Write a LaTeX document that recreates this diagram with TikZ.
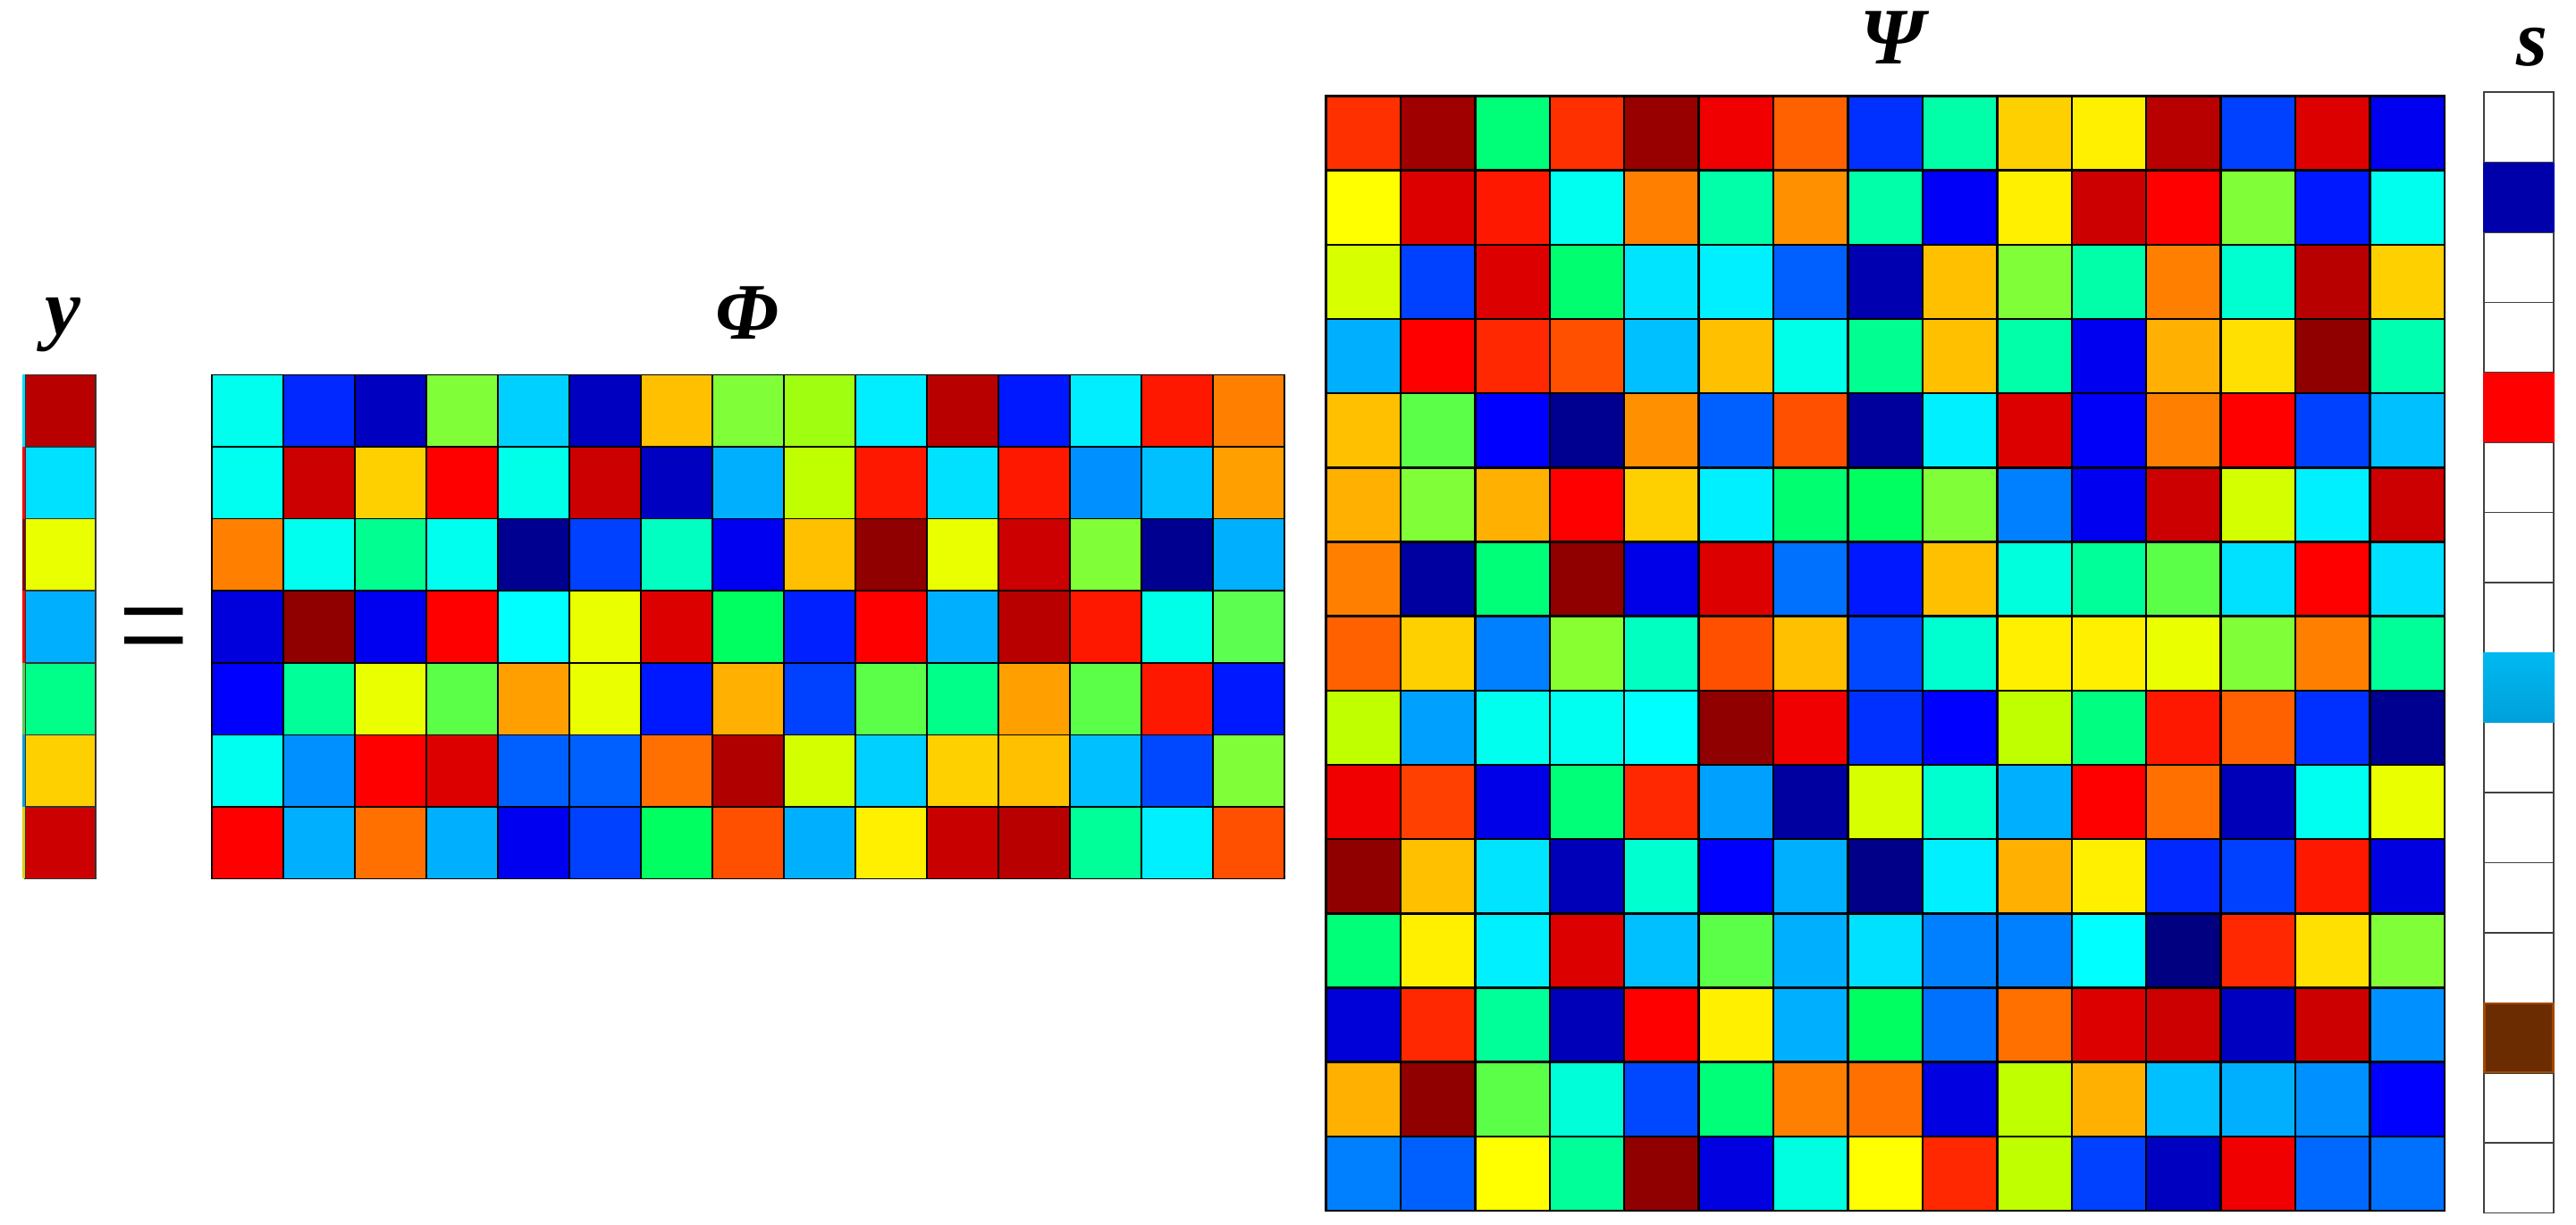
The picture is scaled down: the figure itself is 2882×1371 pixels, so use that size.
\documentclass[tikz,border=0pt]{standalone}
\usepackage{fontspec}
\setmainfont{Liberation Serif}
\tikzset{
  philine/.style={draw=black, line width=0.45pt, line cap=rect},
  psiline/.style={draw=black, line width=0.7pt, line cap=rect},
  yline/.style={draw=black!80, line width=0.45pt, line cap=rect},
  lbl/.style={font=\fontsize{25.5}{30}\selectfont\bfseries\itshape, inner sep=0pt, anchor=base},
  scell/.style={draw=black!75, line width=0.4pt},
  sside/.style={draw=black!75, line width=0.7pt},
}
\newcommand\drawgrid[8]{%
  \foreach \rw [count=\ri from 0] in {#8} {
    \foreach \cellhex [count=\ci from 0] in \rw {
      \edef\tmpdef{\noexpand\definecolor{cellc}{HTML}{\cellhex}}\tmpdef
      \fill[cellc] ({#1+\ci*#3},{#2+\ri*#4}) rectangle ++(#3,#4);
    }
  }
  \foreach \i in {0,...,#5} \draw[#7] ({#1+\i*#3},#2) -- ++(0,{#6*#4});
  \foreach \j in {0,...,#6} \draw[#7] (#1,{#2+\j*#4}) -- ++({#5*#3},0);
}
\definecolor{sblue}{HTML}{0000AA}
\definecolor{sred}{HTML}{FF0000}
\definecolor{slbtop}{HTML}{00B8F0}
\definecolor{slbbot}{HTML}{00A0DA}
\definecolor{sbrown}{HTML}{6C2C02}
\definecolor{sbrownedge}{HTML}{A04800}
\begin{document}
\begin{tikzpicture}[x=0.01cm, y=-0.01cm]
\fill[white] (0,0) rectangle (2882,1371);
\useasboundingbox (0,0) rectangle (2882,1371);

% ---- y vector ----
\drawgrid{28}{419.5}{79}{80.57}{1}{7}{yline}{{B80000},{00E0FF},{EAFF00},{00B0FF},{00FF88},{FFD000},{CC0000}}
\foreach \hx [count=\k from 0] in {00E0FF,FF0000,800000,FF0000,50D050,00A0E0,E0D000} {
  \edef\tmpdef{\noexpand\definecolor{stripc}{HTML}{\hx}}\tmpdef
  \fill[stripc] (25,{419.5+\k*80.57}) rectangle ++(3,80.57);
}
\node[lbl] (lblY) at (70,375) {y};

% ---- equals ----
\node[font=\fontsize{40}{44}\selectfont, inner sep=0pt, yscale=1.15] (eq) at (172,718) {=};

% ---- Phi ----
\drawgrid{237}{419.5}{80}{80.57}{15}{7}{philine}{%
{00FFEE,0028FF,0000C0,80FF38,00D0FF,0000C0,FFC000,80FF38,A0FF10,00EEFF,B80000,0018FF,00EEFF,FF1800,FF8000},
{00FFF0,CC0000,FFD000,FF0000,00FFE8,CC0000,0000C0,00B0FF,C0FF00,FF1800,00E0FF,FF1800,0090FF,00C0FF,FFA000},
{FF8000,00FFEE,00FF90,00FFEE,000090,0040FF,00FFC0,0000F0,FFC000,900000,EAFF00,CC0000,80FF38,000090,00B0FF},
{0000DD,900000,0000F0,FF0000,00FFFF,EAFF00,DD0000,00FF60,0020FF,FF0000,00B0FF,B80000,FF1800,00FFE8,5CFF50},
{0000FF,00FF99,EAFF00,5CFF48,FFA000,EAFF00,0018FF,FFB000,0040FF,5CFF48,00FF88,FFA000,5CFF48,FF1800,0018FF},
{00FFF0,0090FF,FF0000,DD0000,0060FF,0060FF,FF7000,B00000,D4FF00,00D0FF,FFD000,FFC000,00C0FF,0048FF,80FF38},
{FF0000,00B0FF,FF7000,00B0FF,0000F0,0040FF,00FF60,FF5000,00B0FF,FFF000,C80000,B80000,00FF99,00F0FF,FF5000}}
\node[lbl] (lblPhi) at (836,380) {Φ};

% ---- Psi ----
\drawgrid{1483.5}{107.5}{83.43}{83.17}{15}{15}{psiline}{%
{FF3000,A00000,00FF78,FF3000,980000,F00000,FF6000,0030FF,00FFA8,FFD000,FFF000,B80000,0040FF,DD0000,0000F0},
{FFFF00,DD0000,FF1800,00FFF0,FF8000,00FFA8,FF9000,00FFA8,0000F8,FFF000,CC0000,FF0000,80FF38,0018FF,00FFEE},
{D8FF00,0040FF,DD0000,00FF70,00E4FF,00F0FF,0060FF,0000B0,FFC000,80FF38,00FFA8,FF8000,00FFD0,B80000,FFD000},
{00B0FF,FF0000,FF2800,FF5000,00C0FF,FFC000,00FFE8,00FF90,FFC000,00FFA8,0000F0,FFB000,FFE000,900000,00FFB0},
{FFC000,5CFF48,0000FF,000090,FF9000,0060FF,FF5000,00009C,00F0FF,DD0000,0000F8,FF8000,FF0000,0040FF,00C0FF},
{FFB000,80FF38,FFB000,FF0000,FFD000,00F0FF,00FF70,00FF60,80FF38,0080FF,0000F0,CC0000,D4FF00,00F0FF,CC0000},
{FF8000,0000A0,00FF78,900000,0000E8,DD0000,0070FF,0018FF,FFC000,00FFDD,00FF99,5CFF48,00E0FF,FF0000,00E0FF},
{FF6000,FFD000,0080FF,88FF30,00FFC0,FF5000,FFC000,0048FF,00FFD0,FFF000,FFF000,EAFF00,80FF38,FF8000,00FF98},
{C0FF00,00A0FF,00FFEE,00FFF0,00FFFF,900000,F00000,0030FF,0000FF,C0FF00,00FF80,FF1800,FF6000,0030FF,000090},
{F00000,FF4000,0000E8,00FF78,FF2800,00A0FF,0000A0,D8FF00,00FFD0,00B0FF,FF0000,FF7000,0000B8,00FFF0,EAFF00},
{900000,FFC000,00E4FF,0000B8,00FFD0,0000FF,00B0FF,000088,00F0FF,FFB000,FFF000,0028FF,0040FF,FF1800,0000E0},
{00FF78,FFF000,00F0FF,DD0000,00C0FF,5CFF48,00B0FF,00E0FF,0080FF,0080FF,00FFFF,000080,FF2800,FFE000,80FF38},
{0000D8,FF2800,00FF98,0000B8,FF0000,FFF000,00B0FF,00FF60,0070FF,FF7000,DD0000,CC0000,0000C0,CC0000,0090FF},
{FFB000,900000,5CFF48,00FFD8,0048FF,00FF78,FF8000,FF7000,0000E0,C0FF00,FFB000,00C0FF,00B0FF,0090FF,0000FF},
{0080FF,0060FF,FFFF00,00FF98,900000,0000E0,00FFE0,FFFF00,FF2800,C0FF00,0040FF,0000C0,F00000,0068FF,0070FF}}
\node[lbl] (lblPsi) at (2117,72) {Ψ};

% ---- s vector ----
\foreach \j in {0,...,15} \draw[scell] (2779,{103.2+\j*78.4}) rectangle ++(78,78.4);
\draw[sside] (2779,103.2) -- ++(0,1254.4);
\draw[sside] (2857,103.2) -- ++(0,1254.4);
\fill[sblue] (2778,{103.2+1*78.4}) rectangle ++(80,78.4);
\fill[sred] (2778,{103.2+4*78.4}) rectangle ++(80,78.4);
\shade[top color=slbtop, bottom color=slbbot] (2778,{103.2+8*78.4}) rectangle ++(80,78.4);
\fill[sbrownedge] (2778,{103.2+13*78.4}) rectangle ++(80,78.4);
\fill[sbrown] (2781,{103.2+13*78.4+2}) rectangle ++(74,74.4);
\node[lbl] (lblS) at (2833,74) {s};
\end{tikzpicture}
\end{document}
